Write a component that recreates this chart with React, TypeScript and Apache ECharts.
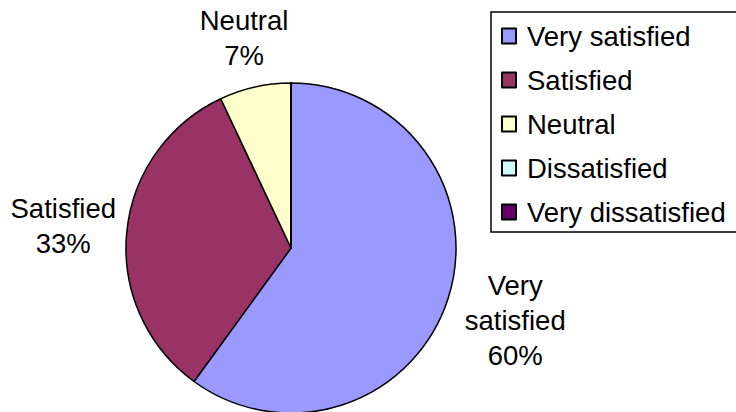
import React, { useEffect, useRef } from "react";
import * as echarts from "echarts";

const categories = ["Very satisfied", "Satisfied", "Neutral", "Dissatisfied", "Very dissatisfied"];
const values = [60, 33, 7, 0, 0];
const colors = ["#9999FF", "#993366", "#FFFFCC", "#CCFFFF", "#660066"];

const FONT = "'Liberation Sans', Arial, sans-serif";
const CX = 291;
const CY = 248;
const R = 165;
const GAP = 10;

export default function App() {
  const ref = useRef<HTMLDivElement>(null);
  useEffect(() => {
    if (!ref.current) return;
    const chart = echarts.init(ref.current, undefined, { renderer: "svg" });
    const total = values.reduce((a, b) => a + b, 0);
    const pieData = categories.map((name, i) => ({
      name,
      value: values[i],
      itemStyle: { color: colors[i] },
      label: { show: values[i] > 0 },
    }));
    // Place each label box just outside the pie along its slice's mid-angle (Excel-like)
    const labelLayout = (p: any) => {
      const i = p.dataIndex;
      const before = values.slice(0, i).reduce((a, b) => a + b, 0);
      const mid = ((90 - ((before + values[i] / 2) / total) * 360) * Math.PI) / 180;
      const ux = Math.cos(mid);
      const uy = -Math.sin(mid);
      const w = p.labelRect.width;
      const h = p.labelRect.height;
      const target = R + GAP;
      let lo = 0;
      let hi = 700;
      for (let k = 0; k < 50; k++) {
        const d = (lo + hi) / 2;
        const cx = CX + ux * d;
        const cy = CY + uy * d;
        const nx = Math.min(Math.max(CX, cx - w / 2), cx + w / 2);
        const ny = Math.min(Math.max(CY, cy - h / 2), cy + h / 2);
        const dist = Math.hypot(nx - CX, ny - CY);
        if (dist < target) lo = d;
        else hi = d;
      }
      const d = (lo + hi) / 2;
      return { x: CX + ux * d, y: CY + uy * d };
    };
    chart.setOption({
      animation: false,
      backgroundColor: "#ffffff",
      legend: {
        orient: "vertical",
        left: 491,
        top: 12,
        data: categories,
        icon: "rect",
        itemWidth: 14,
        itemHeight: 15,
        itemGap: 14,
        padding: [9, 20, 5, 10],
        borderColor: "#000",
        borderWidth: 1.5,
        selectedMode: false,
        textStyle: {
          fontFamily: FONT,
          fontSize: 27.5,
          color: "#000",
          lineHeight: 30,
          padding: [0, 0, 0, 6],
        },
      },
      series: [
        {
          type: "pie",
          center: [CX, CY],
          radius: R,
          startAngle: 90,
          clockwise: true,
          silent: true,
          avoidLabelOverlap: false,
          itemStyle: { borderColor: "#000", borderWidth: 1.5 },
          labelLine: { show: false },
          label: {
            position: "inside",
            fontFamily: FONT,
            fontSize: 27.5,
            lineHeight: 35,
            color: "#000",
            formatter: (p: any) => `${String(p.name).replace(" ", "\n")}\n${p.percent}%`,
          },
          labelLayout,
          data: pieData,
        },
      ],
    });
    return () => chart.dispose();
  }, []);
  return (
    <div style={{ position: "fixed", left: 0, top: 0, width: 736, height: 412, overflow: "hidden", background: "#fff" }}>
      <div ref={ref} style={{ position: "absolute", left: 0, top: 0, width: 770, height: 412 }} />
    </div>
  );
}
